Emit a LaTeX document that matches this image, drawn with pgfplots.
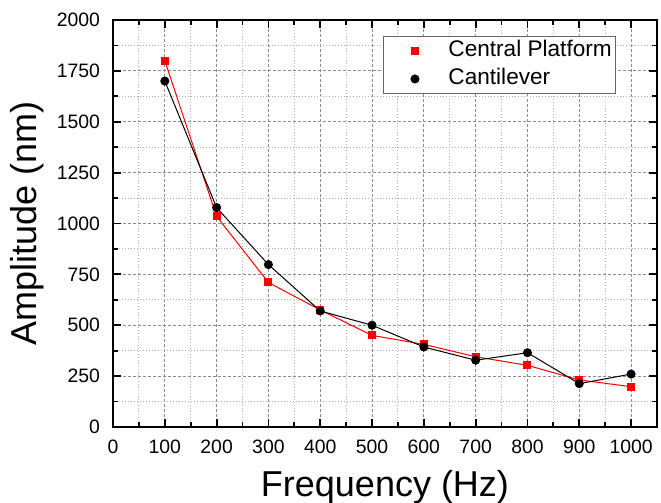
\documentclass[border=0pt]{standalone}
\usepackage{fontspec}
\setmainfont{Liberation Sans}
\usepackage{pgfplots}
\pgfplotsset{compat=1.18}

\begin{document}
\begin{tikzpicture}
\begin{axis}[
    scale only axis,
    width=272pt, height=203.5pt,
    xmin=0, xmax=1050, ymin=0, ymax=2000,
    xtick={0,100,...,1000},
    ytick={0,250,...,2000},
    minor x tick num=1, minor y tick num=1,
    grid=both,
    major grid style={dash pattern=on 1.5pt off 1pt, black!45, line width=0.45pt},
    minor grid style={dash pattern=on 0.5pt off 1pt, black!30, line width=0.45pt},
    tick align=inside,
    major tick length=4pt, minor tick length=2.5pt,
    axis line style={line width=0.9pt},
    every tick/.style={black, line width=0.9pt},
    /pgf/number format/assume math mode=true,
    /pgf/number format/set thousands separator={},
    tick label style={font=\fontsize{9.7}{11}\selectfont},
    yticklabel style={xshift=-3pt},
    xticklabel style={yshift=-3pt},
    xlabel={Frequency (Hz)}, ylabel={Amplitude (nm)},
    label style={font=\fontsize{18}{21}\selectfont},
    xlabel style={at={(axis description cs:0.5,-0.172)}, anchor=base},
    ylabel style={at={(axis description cs:-0.1397,0.5)}, anchor=base},
    legend style={at={(0.4963,0.9607)}, anchor=north west,
        draw=black!60, line width=0.5pt,
        font=\fontsize{11.3}{13}\selectfont,
        nodes={inner sep=0pt, text height=8.5pt, text depth=2.5pt},
        inner xsep=2pt, inner ysep=1.75pt, row sep=3pt},
    legend cell align=left,
    legend image code/.code={%
        \path (0pt,0pt) (30pt,0pt);
        \draw[#1, only marks] plot coordinates {(13.5pt,0pt)};},
]
\addplot[red, line width=0.5pt, mark=square*, mark size=1.75pt]
  coordinates {(100,1800) (200,1035) (300,710) (400,575) (500,450)
               (600,406) (700,345) (800,303) (900,231) (1000,198)};
\addplot[black, line width=0.5pt, mark=*, mark size=2pt]
  coordinates {(100,1700) (200,1078) (300,798) (400,570) (500,500)
               (600,393) (700,328) (800,365) (900,213) (1000,260)};
\legend{Central Platform, Cantilever}
\coordinate (BBsw) at (rel axis cs:-0.2077,-0.1867);
\coordinate (BBne) at (rel axis cs:1.00735,1.0491);
\end{axis}
\pgfresetboundingbox
\path[use as bounding box] (BBsw) rectangle (BBne);
\end{tikzpicture}
\end{document}
